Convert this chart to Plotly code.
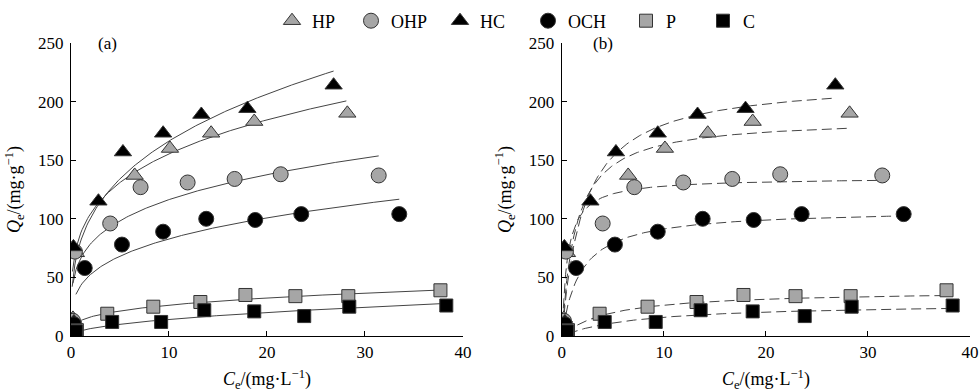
import numpy as np
import plotly.graph_objects as go

# ---------------- data ----------------
series_names = ["HP", "OHP", "HC", "OCH", "P", "C"]

ce_HP = [0.2, 0.5, 6.5, 10.1, 14.3, 18.7, 28.2]
qe_HP = [15, 71, 137, 160, 173, 183, 190]

ce_OHP = [0.2, 0.4, 4.0, 7.1, 11.9, 16.7, 21.4, 31.4]
qe_OHP = [13, 72, 96, 127, 131, 134, 138, 137]

ce_HC = [0.3, 0.25, 2.8, 5.3, 9.4, 13.3, 18.0, 26.8]
qe_HC = [12, 76, 115, 157, 173, 189, 194, 214]

ce_OCH = [0.3, 1.4, 5.2, 9.4, 13.8, 18.8, 23.5, 33.5]
qe_OCH = [10, 58, 78, 89, 100, 99, 104, 104]

ce_P = [0.6, 3.7, 8.4, 13.2, 17.8, 22.9, 28.3, 37.7]
qe_P = [5, 19, 25, 29, 35, 34, 34, 39]

ce_C = [0.5, 4.2, 9.2, 13.6, 18.7, 23.8, 28.4, 38.3]
qe_C = [4, 12, 12, 22, 21, 17, 25, 26]

# Freundlich fit parameters (panel a): q = KF * Ce^(1/n)
KF = [88.0, 66.5, 81.3, 43.2, 13.2, 4.49]
inv_n = [0.247, 0.243, 0.311, 0.283, 0.30, 0.50]
fit_a_start = [0.15, 0.2, 0.12, 0.5, 0.4, 0.7]
fit_a_end = [28.1, 31.4, 26.8, 33.5, 37.7, 38.3]

# Langmuir fit parameters (panel b): q = qm*KL*Ce/(1+KL*Ce)
qm = [186.0, 135.2, 219.4, 108.0, 38.9, 28.2]
KL = [0.72, 1.75, 0.463, 0.55, 0.21, 0.131]
fit_b_start = [0.05, 0.05, 0.05, 0.1, 0.3, 0.6]
fit_b_end = [28.2, 31.3, 26.8, 33.5, 37.5, 38.2]

x_ticks = [0, 10, 20, 30, 40]
y_ticks = [0, 50, 100, 150, 200, 250]

# ---------------- styles ----------------
GREY = "#a6a6a6"
BLACK = "#000000"
EDGE = "#333333"
styles = {
    "HP": dict(symbol="triangle-up", color=GREY, size=15),
    "OHP": dict(symbol="circle", color=GREY, size=15),
    "HC": dict(symbol="triangle-up", color=BLACK, size=15),
    "OCH": dict(symbol="circle", color=BLACK, size=15),
    "P": dict(symbol="square", color=GREY, size=13),
    "C": dict(symbol="square", color=BLACK, size=13),
}
data = {
    "HP": (ce_HP, qe_HP), "OHP": (ce_OHP, qe_OHP), "HC": (ce_HC, qe_HC),
    "OCH": (ce_OCH, qe_OCH), "P": (ce_P, qe_P), "C": (ce_C, qe_C),
}
legend_px = [272, 351, 440, 528, 626, 703]   # left edge of each legend entry (px)
FONT = "Liberation Serif"
W, H = 979, 392
ML, MR, MT, MB = 71, 9, 43, 56
PW, PH = W - ML - MR, H - MT - MB

fig = go.Figure()

# fit curves
for i, name in enumerate(series_names):
    xa = np.linspace(fit_a_start[i], fit_a_end[i], 200)
    ya = KF[i] * xa ** inv_n[i]
    fig.add_trace(go.Scatter(x=xa, y=ya, mode="lines", xaxis="x", yaxis="y",
                             line=dict(color="#444444", width=1), showlegend=False,
                             hoverinfo="skip"))
    xb = np.linspace(fit_b_start[i], fit_b_end[i], 200)
    yb = qm[i] * KL[i] * xb / (1 + KL[i] * xb)
    fig.add_trace(go.Scatter(x=xb, y=yb, mode="lines", xaxis="x2", yaxis="y2",
                             line=dict(color="#444444", width=1, dash="10px,5px"),
                             showlegend=False, hoverinfo="skip"))

# markers
legend_layouts = {}
for i, name in enumerate(series_names):
    st = styles[name]
    x, y = data[name]
    mk = dict(symbol=st["symbol"], color=st["color"], size=st["size"],
              line=dict(color=EDGE, width=1))
    lg = "legend" if i == 0 else f"legend{i + 1}"
    fig.add_trace(go.Scatter(x=x, y=y, mode="markers", name=name, marker=mk,
                             xaxis="x", yaxis="y", legendgroup=name, showlegend=True,
                             legend=lg))
    fig.add_trace(go.Scatter(x=x, y=y, mode="markers", name=name, marker=mk,
                             xaxis="x2", yaxis="y2", legendgroup=name, showlegend=False))
    legend_layouts[lg] = dict(
        xref="paper", yref="paper", x=(legend_px[i] - ML) / PW, xanchor="left",
        y=(H - MB - 21) / PH, yanchor="middle", itemwidth=30,
        font=dict(family=FONT, size=18, color="black"), bgcolor="rgba(0,0,0,0)",
        borderwidth=0,
    )

axis_common = dict(
    showline=True, linecolor="black", linewidth=1.3, ticks="inside", ticklen=5,
    tickcolor="black", showgrid=False, zeroline=False,
    tickfont=dict(family=FONT, size=17, color="black"),
)
xt = "<i>C</i><sub>e</sub>/(mg·L<sup>−1</sup>)"
yt = "<i>Q</i><sub>e</sub>/(mg·g<sup>−1</sup>)"
TF = dict(family=FONT, size=18, color="black")

fig.update_layout(
    width=W, height=H,
    margin=dict(l=ML, r=MR, t=MT, b=MB, autoexpand=False),
    paper_bgcolor="white", plot_bgcolor="white",
    font=dict(family=FONT, size=17, color="black"),
    showlegend=True,
    xaxis=dict(domain=[0, 0.436], range=[0, 40], tickvals=x_ticks, anchor="y",
               title=dict(text=xt, font=TF, standoff=12), **axis_common),
    yaxis=dict(domain=[0, 1], range=[0, 250], tickvals=y_ticks, anchor="x",
               ticklabelstandoff=3,
               title=dict(text=yt, font=TF, standoff=12), **axis_common),
    xaxis2=dict(domain=[0.546, 1], range=[0, 40], tickvals=x_ticks, anchor="y2",
                title=dict(text=xt, font=TF, standoff=12), **axis_common),
    yaxis2=dict(domain=[0, 1], range=[0, 250], tickvals=y_ticks, anchor="x2",
                ticklabelstandoff=3,
                title=dict(text=yt, font=TF, standoff=12), **axis_common),
    annotations=[
        dict(text="(a)", x=2.6, y=250, xref="x", yref="y", showarrow=False,
             xanchor="left", yanchor="middle", font=dict(family=FONT, size=17)),
        dict(text="(b)", x=2.9, y=250, xref="x2", yref="y2", showarrow=False,
             xanchor="left", yanchor="middle", font=dict(family=FONT, size=17)),
    ],
    **legend_layouts,
)

fig.write_html("out.html")
